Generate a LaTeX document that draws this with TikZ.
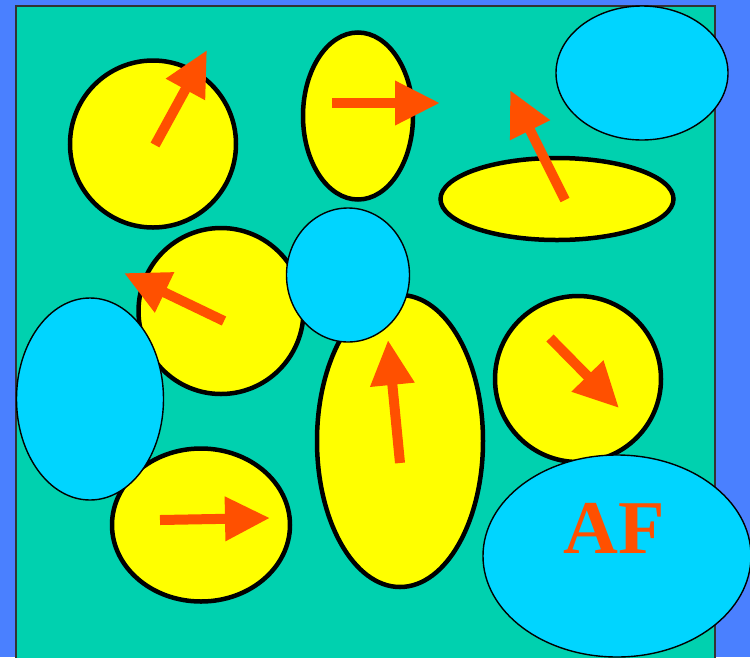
\documentclass[tikz,border=0pt]{standalone}
\usepackage{fontspec}
\setmainfont{Liberation Serif}
\usetikzlibrary{shapes.geometric,arrows.meta}
\definecolor{bgblue}{HTML}{4A80FF}
\definecolor{field}{HTML}{00D1AF}
\definecolor{grain}{HTML}{FFFF00}
\definecolor{pore}{HTML}{00D5FF}
\definecolor{spin}{HTML}{FF5000}
\tikzset{
  grainshape/.style={ellipse, draw=black, line width=4.5pt, fill=grain, inner sep=0pt},
  poreshape/.style={ellipse, draw=black, line width=1.4pt, fill=pore, inner sep=0pt},
  spinarrow/.style={draw=spin, line width=10pt, -{Triangle[length=45pt,width=42pt]}},
}
\begin{document}
\begin{tikzpicture}[x=1pt,y=-1pt]
\useasboundingbox (0,0) rectangle (750,657);
\fill[bgblue] (0,0) rectangle (750,657);
\draw[fill=field, draw=black!80, line width=1.5pt] (16,6) rectangle (715,662);
% grains
\node[grainshape, minimum width=166pt, minimum height=167pt] (g1) at (153,144) {};
\node[grainshape, minimum width=110pt, minimum height=167pt] (g2) at (358,116) {};
\node[grainshape, minimum width=233pt, minimum height=82pt] (g3) at (557,199) {};
\node[grainshape, minimum width=165pt, minimum height=166pt] (g4) at (221,311) {};
\node[grainshape, minimum width=166pt, minimum height=292pt] (g5) at (400,441) {};
\node[grainshape, minimum width=166pt, minimum height=166pt] (g6) at (578,379) {};
\node[grainshape, minimum width=178pt, minimum height=153pt] (g7) at (201,525) {};
% pores
\node[poreshape, minimum width=172pt, minimum height=134pt] (p1) at (642,73) {};
\node[poreshape, minimum width=123pt, minimum height=134pt] (p2) at (348,275) {};
\node[poreshape, minimum width=147pt, minimum height=202pt] (p3) at (90,399) {};
\node[poreshape, minimum width=268pt, minimum height=202pt] (p4) at (617,556) {};
% arrows
\coordinate (a1s) at (155,145); \coordinate (a1e) at (207,50);
\coordinate (a2s) at (332,103); \coordinate (a2e) at (440,103);
\coordinate (a3s) at (565,200); \coordinate (a3e) at (510,90);
\coordinate (a4s) at (224,321); \coordinate (a4e) at (124,273);
\coordinate (a5s) at (400,463); \coordinate (a5e) at (388,340);
\coordinate (a6s) at (550,338); \coordinate (a6e) at (619,408);
\coordinate (a7s) at (160,520); \coordinate (a7e) at (270,518);
\draw[spinarrow] (a1s) -- (a1e);
\draw[spinarrow] (a2s) -- (a2e);
\draw[spinarrow] (a3s) -- (a3e);
\draw[spinarrow] (a4s) -- (a4e);
\draw[spinarrow] (a5s) -- (a5e);
\draw[spinarrow] (a6s) -- (a6e);
\draw[spinarrow] (a7s) -- (a7e);
\node[anchor=base, inner sep=0pt, text=spin, font=\bfseries\fontsize{76}{76}\selectfont] (af) at (614,553) {AF};
\end{tikzpicture}
\end{document}
